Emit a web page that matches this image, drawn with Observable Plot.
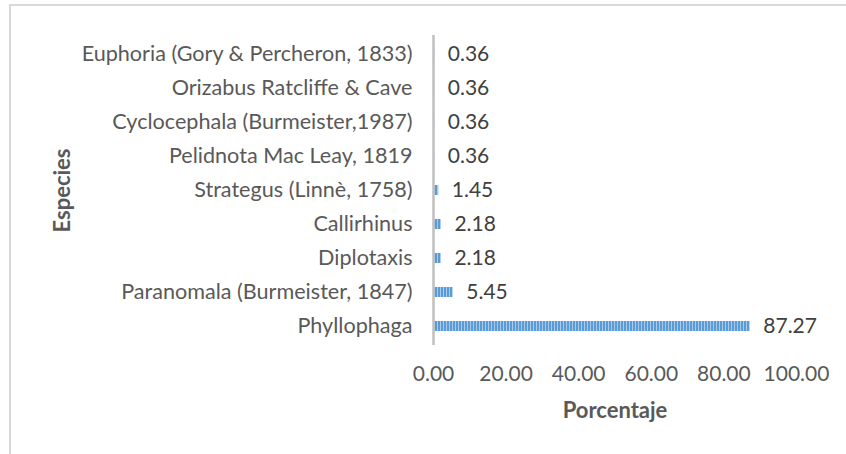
<!DOCTYPE html>
<html>
<head>
<meta charset="utf-8">
<script src="https://cdn.jsdelivr.net/npm/d3@7"></script>
<script src="https://cdn.jsdelivr.net/npm/@observablehq/plot@0.6"></script>
<style>
  html, body { margin: 0; padding: 0; background: #fff; }
  #wrap { position: relative; width: 846px; height: 454px; overflow: hidden; }
  #frame { position: absolute; left: 9px; top: 4px; width: 900px; height: 500px;
           border-top: 2px solid #d9d9d9; border-left: 2px solid #d9d9d9; pointer-events: none; }
  svg { display: block; }
</style>
</head>
<body>
<div id="wrap"><div id="frame"></div></div>
<script>
const species = [
  "Euphoria (Gory & Percheron, 1833)",
  "Orizabus Ratcliffe & Cave",
  "Cyclocephala (Burmeister,1987)",
  "Pelidnota Mac Leay, 1819",
  "Strategus (Linnè, 1758)",
  "Callirhinus",
  "Diplotaxis",
  "Paranomala (Burmeister, 1847)",
  "Phyllophaga"
];
const porcentaje = [0.36, 0.36, 0.36, 0.36, 1.45, 2.18, 2.18, 5.45, 87.27];
const xTicks = [0, 20, 40, 60, 80, 100];
const xTitle = "Porcentaje";
const yTitle = "Especies";

const data = species.map((s, i) => ({species: s, value: porcentaje[i]}));
const font = "Lato, 'Open Sans', sans-serif";

const chart = Plot.plot({
  width: 846,
  height: 454,
  marginLeft: 433,
  marginRight: 50,
  marginTop: 35,
  marginBottom: 109,
  style: {fontFamily: font, fontSize: "21px", color: "#595959", background: "transparent"},
  x: {domain: [0, 100], ticks: xTicks, tickFormat: d3.format(".2f")},
  y: {domain: species, paddingInner: 0.71, paddingOuter: 0.315, label: null},
  marks: [
    Plot.axisX({ticks: xTicks, tickFormat: d3.format(".2f"), tickSize: 0, tickPadding: 21, label: null, fontSize: 21, fill: "#595959"}),
    Plot.axisY({tickSize: 0, tickPadding: 21, label: null, fontSize: 21.6, fill: "#595959"}),
    Plot.barX(data, {x: "value", y: "species", fill: "url(#stripes)"}),
    Plot.ruleX([0], {stroke: "#bfbfbf", strokeWidth: 2.5}),
    Plot.text(data, {x: "value", y: "species", text: d => d.value.toFixed(2), textAnchor: "start", dx: 13, fill: "#404040", fontSize: 21}),
    Plot.text([xTitle], {frameAnchor: "bottom", dy: 65, textAnchor: "middle", lineAnchor: "middle", fontWeight: "bold", fontSize: 22, fill: "#595959"}),
    Plot.text([yTitle], {frameAnchor: "left", dx: -371, rotate: -90, textAnchor: "middle", lineAnchor: "middle", fontWeight: "bold", fontSize: 22, fill: "#595959"})
  ]
});

const ns = "http://www.w3.org/2000/svg";
const defs = document.createElementNS(ns, "defs");
defs.innerHTML = `<pattern id="stripes" patternUnits="userSpaceOnUse" width="3" height="10">
  <rect x="0" y="0" width="3" height="10" fill="#a9cbec"/>
  <rect x="0" y="0" width="2" height="10" fill="#5b9bd5"/>
</pattern>`;
chart.insertBefore(defs, chart.firstChild);
document.getElementById("wrap").appendChild(chart);
</script>
</body>
</html>
